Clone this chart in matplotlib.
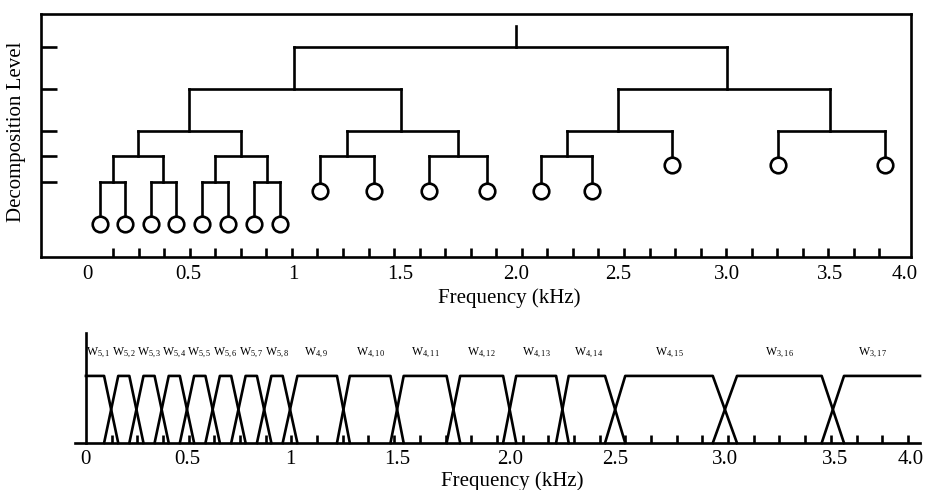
import numpy as np
import matplotlib
matplotlib.use('Agg')
import matplotlib.pyplot as plt

# leaf nodes of the wavelet packet tree, left to right (level of each leaf)
leaf_levels = [5, 5, 5, 5, 5, 5, 5, 5, 4, 4, 4, 4, 4, 4, 3, 3, 3]
leaf_names = ['5,1', '5,2', '5,3', '5,4', '5,5', '5,6', '5,7', '5,8',
              '4,9', '4,10', '4,11', '4,12', '4,13', '4,14',
              '4,15', '3,16', '3,17']
f_max = 4.0  # kHz

# half width (kHz) of the overlap at each inner band boundary
trans_hw = [0.035, 0.035, 0.035, 0.035, 0.035, 0.035, 0.035, 0.035,
            0.03, 0.03, 0.03, 0.03, 0.03, 0.047, 0.055, 0.06]

tick_vals = [0, 0.5, 1, 1.5, 2, 2.5, 3, 3.5, 4]
tick_text = ['0', '0.5', '1', '1.5', '2.0', '2.5', '3.0', '3.5', '4.0']

# the original axes are hand drawn: kHz -> position along the axis
top_knots_khz = [0, 0.5, 1, 1.5, 2, 2.5, 3, 3.5, 3.75, 4]
top_knots_pos = [88, 189, 294, 401, 516, 618, 727, 830, 885, 905]
bot_knots_khz = [0, 0.5, 1, 1.5, 2, 2.5, 3, 3.5, 4]
bot_knots_pos = [86, 187, 290, 397, 510, 615, 725, 835, 911]

# depth of each split line in the tree (uneven spacing, as drawn)
level_y = [0, 1, 2, 2.6, 3.21, 4.0]
root_top = -0.5
circle_r = 0.214

LW = 1.9
plt.rcParams['font.family'] = 'Liberation Serif'
plt.rcParams['mathtext.fontset'] = 'custom'
plt.rcParams['mathtext.rm'] = 'Liberation Serif'


def make_warp(kx, kp):
  kx = np.asarray(kx, float)
  kp = np.asarray(kp, float)

  def interp(x, xs, ps):
    x = np.asarray(x, float)
    y = np.interp(x, xs, ps)
    s0 = (ps[1] - ps[0]) / (xs[1] - xs[0])
    s1 = (ps[-1] - ps[-2]) / (xs[-1] - xs[-2])
    y = np.where(x < xs[0], ps[0] + (x - xs[0]) * s0, y)
    y = np.where(x > xs[-1], ps[-1] + (x - xs[-1]) * s1, y)
    return y

  return (lambda x: interp(x, kx, kp)), (lambda p: interp(p, kp, kx))


# leaf bands
bands = []
lo = 0.0
for lv in leaf_levels:
  w = f_max / 2 ** lv
  bands.append((lo, lo + w))
  lo += w
leaf_keys = {(round(a, 6), round(b, 6)) for a, b in bands}

fig = plt.figure(figsize=(9.27, 4.90), dpi=100)

# ---------------- top: decomposition tree ----------------
ax1 = fig.add_axes([41 / 927, 1 - 257 / 490, 870 / 927, 243 / 490])
fwd1, inv1 = make_warp(top_knots_khz, top_knots_pos)
ax1.set_xscale('function', functions=(fwd1, inv1))


def draw_node(ax, a, b, d):
  x = (a + b) / 2
  y0 = level_y[d - 1] if d > 0 else root_top
  ax.plot([x, x], [y0, level_y[d]], color='k', lw=LW, solid_capstyle='projecting')
  if (round(a, 6), round(b, 6)) in leaf_keys:
    ax.plot([x], [level_y[d] + circle_r], marker='o', ms=11.2, mfc='white',
            mec='k', mew=LW, zorder=5)
    return
  m = (a + b) / 2
  ax.plot([(a + m) / 2, (m + b) / 2], [level_y[d]] * 2, color='k', lw=LW,
          solid_capstyle='projecting')
  draw_node(ax, a, m, d + 1)
  draw_node(ax, m, b, d + 1)


draw_node(ax1, 0.0, f_max, 0)

ax1.set_xlim(-0.23, 4.075)
ax1.set_ylim(5.0, -0.786)
ax1.set_xticks(tick_vals, tick_text)
ax1.set_xticks(inv1(np.linspace(88, 905, 33)), minor=True)
ax1.set_yticks(level_y[:5])
ax1.tick_params(axis='x', which='major', length=0, labelsize=15, pad=6)
ax1.tick_params(axis='x', which='minor', direction='in', length=6.5, width=LW)
ax1.tick_params(axis='y', direction='in', length=11.5, width=LW, labelleft=False)
for s in ax1.spines.values():
  s.set_linewidth(LW)
ax1.set_xlabel('Frequency (kHz)', fontsize=15)
ax1.xaxis.set_label_coords(0.538, -0.13)
ax1.set_ylabel('Decomposition Level', fontsize=15)
ax1.yaxis.set_label_coords(-0.017, 0.514)

# ---------------- bottom: filter bank ----------------
ax2 = fig.add_axes([75 / 927, 1 - 443 / 490, 845 / 927, 110 / 490])
fwd2, inv2 = make_warp(bot_knots_khz, bot_knots_pos)
ax2.set_xscale('function', functions=(fwd2, inv2))
ax2.set_xlim(-0.054, 4.06)
x_right = ax2.get_xlim()[1]

n = len(bands)
for i, (a, b) in enumerate(bands):
  xs, ys = [], []
  if i == 0:
    xs += [a]
    ys += [1]
  else:
    xs += [a - trans_hw[i - 1], a + trans_hw[i - 1]]
    ys += [0, 1]
  if i == n - 1:
    xs += [x_right]   # last band runs on to the edge
    ys += [1]
  else:
    xs += [b - trans_hw[i], b + trans_hw[i]]
    ys += [1, 0]
  ax2.plot(xs, ys, color='k', lw=LW, clip_on=False)
  ax2.text((a + b) / 2, 1.34, r'$\mathrm{W_{%s}}$' % leaf_names[i],
           ha='center', va='center', fontsize=8.5)

ax2.set_ylim(0, 1.64)
ax2.spines['top'].set_visible(False)
ax2.spines['right'].set_visible(False)
ax2.spines['left'].set_position(('data', 0))
for s in ax2.spines.values():
  s.set_linewidth(LW)
ax2.set_yticks([])
ax2.set_xticks(tick_vals, tick_text)
ax2.set_xticks(inv2(np.linspace(86, 908, 33)), minor=True)
ax2.tick_params(axis='x', which='major', length=0, labelsize=15, pad=5)
ax2.tick_params(axis='x', which='minor', direction='in', length=6, width=LW)
ax2.set_xlabel('Frequency (kHz)', fontsize=15)
ax2.xaxis.set_label_coords(0.517, -0.26)

fig.savefig('out.png', dpi=100)
